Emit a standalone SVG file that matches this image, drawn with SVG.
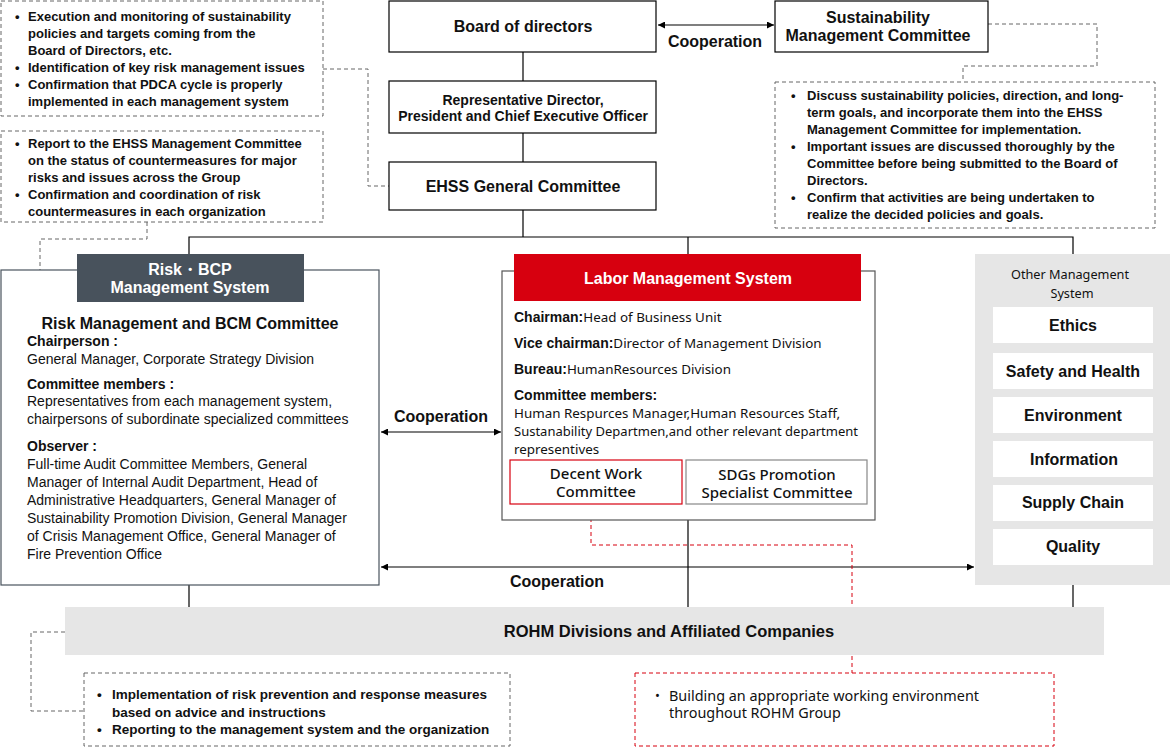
<svg xmlns="http://www.w3.org/2000/svg" width="1170" height="750" viewBox="0 0 1170 750">
<defs>
<marker id="ah" viewBox="0 0 10 10" refX="10" refY="5" markerWidth="7" markerHeight="7" markerUnits="userSpaceOnUse" orient="auto-start-reverse"><path d="M0,0 L10,5 L0,10 z" fill="#000"/></marker>
<style>
.t{font-family:"Liberation Sans",Arial,sans-serif;fill:#111}
.b{font-weight:bold}
.n{font-family:"Noto Sans","Liberation Sans",sans-serif;fill:#111}
.box{fill:#fff;stroke:#000;stroke-width:1.2}
.dash{fill:none;stroke:#666;stroke-width:1;stroke-dasharray:4,3}
.rdash{fill:none;stroke:#d7000f;stroke-width:1;stroke-dasharray:4,3}
.ln{fill:none;stroke:#000;stroke-width:1.2}
</style>
</defs>
<rect width="1170" height="750" fill="#fff"/>

<g id="connectors">
<line class="ln" x1="523" y1="52" x2="523" y2="81"/>
<line class="ln" x1="523" y1="133" x2="523" y2="162"/>
<line class="ln" x1="523" y1="210" x2="523" y2="237"/>
<polyline class="ln" points="189,254 189,237 1073,237 1073,254"/>
<line class="ln" x1="688" y1="237" x2="688" y2="254"/>
<line class="ln" x1="189" y1="585" x2="189" y2="607"/>
<line class="ln" x1="688" y1="520" x2="688" y2="607"/>
<line class="ln" x1="1073" y1="585" x2="1073" y2="607"/>
<line class="ln" x1="658" y1="25" x2="774" y2="25" marker-start="url(#ah)" marker-end="url(#ah)"/>
<line class="ln" x1="381" y1="432" x2="501" y2="432" marker-start="url(#ah)" marker-end="url(#ah)"/>
<line class="ln" x1="381" y1="567" x2="974" y2="567" marker-start="url(#ah)" marker-end="url(#ah)"/>
<polyline class="dash" points="323,69 368,69 368,186 389,186"/>
<polyline class="dash" points="147,222 147,239 40,239 40,270"/>
<polyline class="dash" points="988,24 1097,24 1097,66 963,66 963,82"/>
<polyline class="dash" points="65,632 31,632 31,711 84,711"/>
<polyline class="rdash" points="591,504 591,545 852,545 852,673"/>
<text class="t b" x="715" y="47" font-size="16" text-anchor="middle">Cooperation</text>
<text class="t b" x="441" y="422" font-size="16" text-anchor="middle">Cooperation</text>
<text class="t b" x="557" y="587" font-size="16" text-anchor="middle">Cooperation</text>
</g>

<g id="note-ehss">
<rect class="dash" x="1" y="1" width="322" height="115"/>
<g class="t b" font-size="13">
<text x="15" y="21">•</text><text x="28" y="21">Execution and monitoring of sustainability</text>
<text x="28" y="38">policies and targets coming from the</text>
<text x="28" y="55">Board of Directors, etc.</text>
<text x="15" y="72">•</text><text x="28" y="72">Identification of key risk management issues</text>
<text x="15" y="89">•</text><text x="28" y="89">Confirmation that PDCA cycle is properly</text>
<text x="28" y="106">implemented in each management system</text>
</g>
</g>

<g id="note-risk">
<rect class="dash" x="1" y="131" width="322" height="91"/>
<g class="t b" font-size="13">
<text x="15" y="148">•</text><text x="28" y="148">Report to the EHSS Management Committee</text>
<text x="28" y="165">on the status of countermeasures for major</text>
<text x="28" y="182">risks and issues across the Group</text>
<text x="15" y="199">•</text><text x="28" y="199">Confirmation and coordination of risk</text>
<text x="28" y="216">countermeasures in each organization</text>
</g>
</g>

<g id="board">
<rect class="box" x="389" y="1" width="267" height="51"/>
<text class="t b" x="523" y="32" font-size="16" text-anchor="middle">Board of directors</text>
</g>

<g id="smc">
<rect class="box" x="775" y="1" width="213" height="51"/>
<text class="t b" x="878" y="23" font-size="16" text-anchor="middle">Sustainability</text>
<text class="t b" x="878" y="41" font-size="16" text-anchor="middle">Management Committee</text>
</g>

<g id="note-smc">
<rect class="dash" x="775" y="82" width="380" height="146"/>
<g class="t b" font-size="13">
<text x="791" y="100">•</text><text x="807" y="100">Discuss sustainability policies, direction, and long-</text>
<text x="807" y="117">term goals, and incorporate them into the EHSS</text>
<text x="807" y="134">Management Committee for implementation.</text>
<text x="791" y="151">•</text><text x="807" y="151">Important issues are discussed thoroughly by the</text>
<text x="807" y="168">Committee before being submitted to the Board of</text>
<text x="807" y="185">Directors.</text>
<text x="791" y="202">•</text><text x="807" y="202">Confirm that activities are being undertaken to</text>
<text x="807" y="219">realize the decided policies and goals.</text>
</g>
</g>

<g id="ceo">
<rect class="box" x="389" y="81" width="267" height="52"/>
<text class="t b" x="523" y="105" font-size="14" text-anchor="middle">Representative Director,</text>
<text class="t b" x="523" y="121" font-size="14" text-anchor="middle">President and Chief Executive Officer</text>
</g>

<g id="ehss">
<rect class="box" x="389" y="162" width="267" height="48"/>
<text class="t b" x="523" y="192" font-size="16" text-anchor="middle">EHSS General Committee</text>
</g>

<g id="risk">
<rect x="1" y="270" width="378" height="315" fill="#fff" stroke="#4a545e" stroke-width="1.2"/>
<rect x="77" y="254" width="227" height="48" fill="#48525c"/>
<text class="t b" x="190" y="275" font-size="16" text-anchor="middle" style="fill:#fff">Risk・BCP</text>
<text class="t b" x="190" y="293" font-size="16" text-anchor="middle" style="fill:#fff">Management System</text>
<text class="t b" x="190" y="329" font-size="16" text-anchor="middle">Risk Management and BCM Committee</text>
<g class="t" font-size="14">
<text class="b" x="27" y="346">Chairperson :</text>
<text x="27" y="364">General Manager, Corporate Strategy Division</text>
<text class="b" x="27" y="389">Committee members :</text>
<text x="27" y="406">Representatives from each management system,</text>
<text x="27" y="424">chairpersons of subordinate specialized committees</text>
<text class="b" x="27" y="451">Observer :</text>
<text x="27" y="469">Full-time Audit Committee Members, General</text>
<text x="27" y="487">Manager of Internal Audit Department, Head of</text>
<text x="27" y="505">Administrative Headquarters, General Manager of</text>
<text x="27" y="523">Sustainability Promotion Division, General Manager</text>
<text x="27" y="541">of Crisis Management Office, General Manager of</text>
<text x="27" y="559">Fire Prevention Office</text>
</g>
</g>

<g id="labor">
<rect x="502" y="271" width="373" height="249" fill="#fff" stroke="#555" stroke-width="1.2"/>
<rect x="514" y="254" width="347" height="47" fill="#d7000f"/>
<text class="t b" x="688" y="284" font-size="16" text-anchor="middle" style="fill:#fff">Labor Management System</text>
<g font-size="13.4">
<text x="514" y="322"><tspan class="t b" font-size="14">Chairman:</tspan><tspan class="n">Head of Business Unit</tspan></text>
<text x="514" y="348"><tspan class="t b" font-size="14">Vice chairman:</tspan><tspan class="n">Director of Management Division</tspan></text>
<text x="514" y="374"><tspan class="t b" font-size="14">Bureau:</tspan><tspan class="n">HumanResources Division</tspan></text>
<text class="t b" x="514" y="400" font-size="14">Committee members:</text>
<text class="n" x="514" y="418">Human Respurces Manager,Human Resources Staff,</text>
<text class="n" x="514" y="436" textLength="344" lengthAdjust="spacingAndGlyphs">Sustanability Departmen,and other relevant department</text>
<text class="n" x="514" y="454">representives</text>
</g>
</g>

<g id="decent-work">
<rect x="510" y="460" width="172" height="44" fill="#fff" stroke="#d7000f" stroke-width="1.2"/>
<text class="n" x="596" y="479" font-size="15" font-weight="500" text-anchor="middle">Decent Work</text>
<text class="n" x="596" y="497" font-size="15" font-weight="500" text-anchor="middle">Committee</text>
</g>

<g id="sdgs">
<rect x="686" y="460" width="181" height="44" fill="#fff" stroke="#888" stroke-width="1.2"/>
<text class="n" x="777" y="480" font-size="15" font-weight="500" text-anchor="middle">SDGs Promotion</text>
<text class="n" x="777" y="498" font-size="15" font-weight="500" text-anchor="middle">Specialist Committee</text>
</g>

<g id="other">
<rect x="975" y="254" width="195" height="331" fill="#e6e6e6"/>
<text class="n" x="1070" y="279" font-size="12.7" text-anchor="middle">Other Management</text>
<text class="n" x="1072" y="298" font-size="12.7" text-anchor="middle">System</text>
<rect x="993" y="307" width="160" height="36" fill="#fff"/>
<rect x="993" y="353" width="160" height="36" fill="#fff"/>
<rect x="993" y="397" width="160" height="36" fill="#fff"/>
<rect x="993" y="441" width="160" height="36" fill="#fff"/>
<rect x="993" y="485" width="160" height="36" fill="#fff"/>
<rect x="993" y="529" width="160" height="36" fill="#fff"/>
<g class="t b" font-size="16" text-anchor="middle">
<text x="1073" y="331">Ethics</text>
<text x="1073" y="377">Safety and Health</text>
<text x="1073" y="421">Environment</text>
<text x="1074" y="465">Information</text>
<text x="1073" y="508">Supply Chain</text>
<text x="1073" y="552">Quality</text>
</g>
</g>

<g id="rohm">
<rect x="65" y="607" width="1039" height="48" fill="#e6e6e6"/>
<text class="t b" x="669" y="637" font-size="16.5" text-anchor="middle">ROHM Divisions and Affiliated Companies</text>
</g>

<g id="note-rohm">
<rect class="dash" x="84" y="673" width="426" height="73"/>
<g class="t b" font-size="13.5">
<text x="97" y="699">•</text><text x="112" y="699">Implementation of risk prevention and response measures</text>
<text x="112" y="717">based on advice and instructions</text>
<text x="97" y="734">•</text><text x="112" y="734">Reporting to the management system and the organization</text>
</g>
</g>

<g id="note-labor">
<rect class="rdash" x="635" y="673" width="419" height="73"/>
<text class="n" x="655" y="700" font-size="13">•</text>
<text class="n" x="669" y="701" font-size="14.4">Building an appropriate working environment</text>
<text class="n" x="669" y="718" font-size="14.4">throughout ROHM Group</text>
</g>
</svg>
